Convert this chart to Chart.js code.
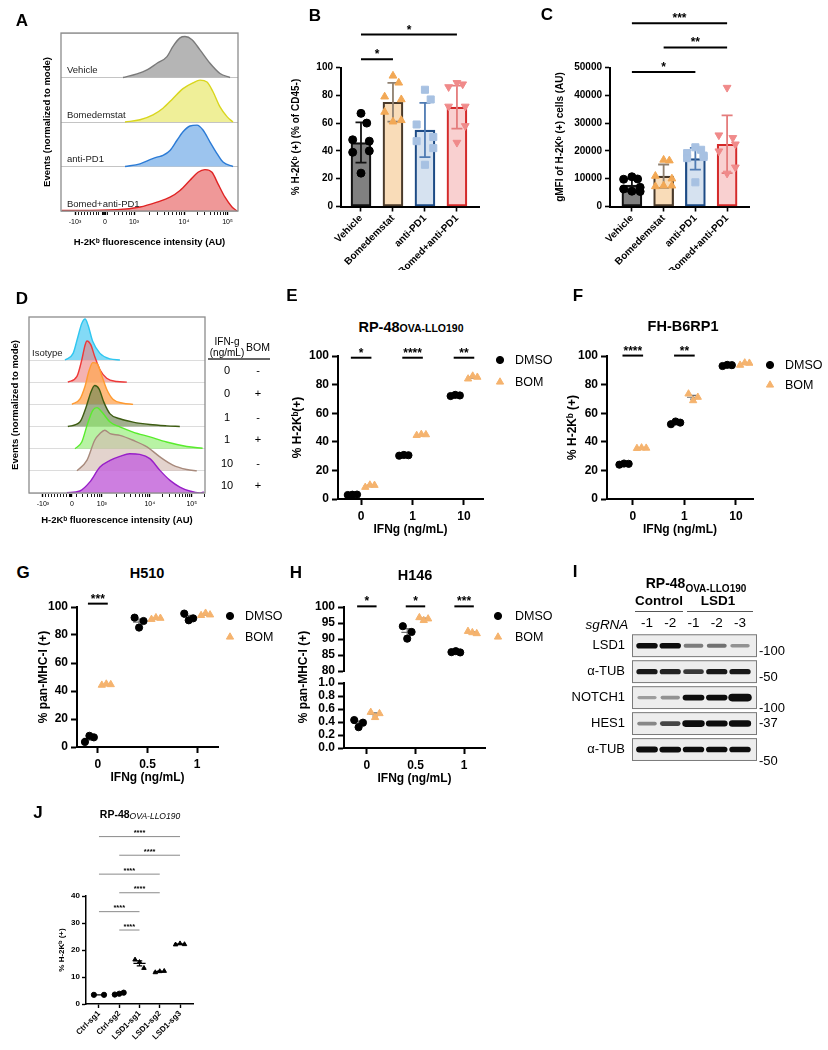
<!DOCTYPE html>
<html><head><meta charset="utf-8">
<script src="https://cdn.jsdelivr.net/npm/chart.js@4.4.1/dist/chart.umd.min.js"></script>
<style>
html,body{margin:0;padding:0;background:#fff;}
body{width:828px;height:1050px;position:relative;overflow:hidden;font-family:"Liberation Sans",Arial,Helvetica,sans-serif;color:#000;}
canvas{position:absolute;}
.t{position:absolute;white-space:nowrap;line-height:1;z-index:5;}
.hr{position:absolute;z-index:5;}
</style></head><body>
<script>
// ================= DATA =================
// Panel A: flow histograms (x in display decades, h = fraction of row height)
const A_ROWS = ['Vehicle','Bomedemstat','anti-PD1','Bomed+anti-PD1'];
const A_TICK_LABELS = ['-10³','0','10³','10⁴','10⁵'];
const A_VEH_X = [2.78,3.06,3.26,3.46,3.66,3.78,3.92,4.02,4.16,4.32,4.52,4.72,4.92];
const A_VEH_H = [0,0.08,0.17,0.32,0.47,0.70,0.89,0.92,0.85,0.62,0.32,0.09,0];
const A_BOM_X = [2.82,3.12,3.38,3.58,3.78,3.98,4.18,4.32,4.46,4.58,4.72,4.86,4.98];
const A_BOM_H = [0,0.05,0.16,0.31,0.53,0.75,0.88,0.94,0.90,0.68,0.34,0.12,0];
const A_PD1_X = [2.82,3.12,3.36,3.46,3.58,3.72,3.86,3.98,4.12,4.26,4.38,4.52,4.66,4.78,4.98];
const A_PD1_H = [0,0.06,0.17,0.21,0.25,0.36,0.59,0.78,0.91,0.93,0.82,0.55,0.29,0.10,0];
const A_CMB_X = [1.56,2.66,3.12,3.46,3.72,3.92,4.12,4.28,4.42,4.56,4.68,4.82,4.96,5.06];
const A_CMB_H = [0.01,0.03,0.09,0.20,0.31,0.46,0.69,0.87,0.93,0.87,0.61,0.31,0.09,0];

// Panel B
const B_CATS = ['Vehicle','Bomedemstat','anti-PD1','Bomed+anti-PD1'];
const B_MEAN = [46, 75, 55, 71.5];
const B_SD = [14.5, 14, 19.5, 15.5];
const B_VEH = [67,60,48,47,39,40,24];
const B_BOM = [94,89,79,77,68,62,61];
const B_PD1 = [84,77,59,50,47,42,30];
const B_CMB = [89,88,86,72,72,58,46];
const B_SIG = [[0,1,106,'*'],[0,3,123.7,'*']];

// Panel C
const C_CATS = ['Vehicle','Bomedemstat','anti-PD1','Bomed+anti-PD1'];
const C_MEAN = [7700, 10900, 17200, 22400];
const C_SD = [2300, 4200, 3900, 10400];
const C_VEH = [10700,9900,9800,6900,6300,5400,5500];
const C_BOM = [16750,16500,10960,10000,7230,7470,7470];
const C_PD1 = [21300,20400,19200,18300,17400,17800,8700];
const C_CMB = [42770,24700,25660,22400,19900,14100,11900];
const C_SIG = [[0,2,48400,'*'],[1,3,57200,'**'],[0,3,65900,'***']];

// Panel D: histograms (rows offset by 1, heights in row units)
const D_ISO_X = [2.23,2.40,2.50,2.58,2.65,2.71,2.81,2.96,3.17,3.375];
const D_ISO_H = [0,0.3,1.05,1.65,1.85,1.58,0.83,0.3,0.05,0];
const D_0N_X = [2.29,2.48,2.58,2.65,2.69,2.77,2.85,2.96,3.10,3.31,3.52];
const D_0N_H = [0,0.26,1.0,1.68,1.86,1.68,1.16,0.56,0.18,0.03,0];
const D_0P_X = [2.375,2.54,2.65,2.73,2.81,2.90,3.0,3.10,3.23,3.44,3.65];
const D_0P_H = [0,0.23,0.83,1.5,1.88,1.83,1.28,0.68,0.23,0.05,0];
const D_1N_X = [2.29,2.54,2.67,2.77,2.85,2.94,3.04,3.17,3.375,3.65,4.0,4.35,4.625];
const D_1N_H = [0,0.2,0.87,1.55,1.85,1.7,1.1,0.57,0.35,0.2,0.09,0.03,0];
const D_1P_X = [2.44,2.58,2.69,2.81,2.90,3.0,3.17,3.375,3.65,4.0,4.35,4.77,5.10];
const D_1P_H = [0,0.3,1.05,1.73,1.85,1.65,1.2,0.98,0.75,0.53,0.3,0.1,0.02];
const D_10N_X = [2.48,2.69,2.85,2.96,3.06,3.17,3.375,3.65,3.94,4.21,4.48,4.77,4.98];
const D_10N_H = [0,0.48,1.38,1.68,1.83,1.68,1.6,1.38,1.08,0.63,0.26,0.06,0];
const D_10P_X = [2.27,2.54,2.75,2.96,3.17,3.375,3.58,3.79,4.0,4.21,4.42,4.625,4.83,5.04,5.125];
const D_10P_H = [0.01,0.09,0.5,1.17,1.47,1.65,1.77,1.74,1.55,1.02,0.57,0.27,0.09,0,0.05];
const D_IFN = ['0','0','1','1','10','10'];
const D_BOMS = ['-','+','-','+','-','+'];

// Panels E-H (replicates per IFNg group)
const E_CATS = ['0','1','10'];
const E_DMSO = [[2.8,3.0,3.1],[30.3,30.8,30.6],[72.0,72.8,72.4]];
const E_BOM = [[8.2,9.8,9.6],[44.5,45.2,45.0],[84.0,86.0,85.2]];
const E_SIG = ['*','****','**'];
const F_CATS = ['0','1','10'];
const F_DMSO = [[24.0,24.8,24.6],[52.3,54.2,53.4],[93.0,93.8,93.6]];
const F_BOM = [[35.4,35.8,35.6],[73.5,68.8,71.2],[93.6,95.2,95.0]];
const F_SIG = ['****','**',null];
const G_CATS = ['0','0.5','1'];
const G_DMSO = [[3.6,8.0,6.9],[92.4,85.3,90.0],[95.3,90.5,91.9]];
const G_BOM = [[44.2,45.0,44.6],[91.2,92.4,92.0],[94.0,95.6,94.4]];
const G_SIG = ['***',null,null];
const H_CATS = ['0','0.5','1'];
const H_DMSO = [[0.43,0.32,0.39],[94.0,90.1,92.2],[85.9,86.2,85.8]];
const H_BOM = [[0.55,0.47,0.53],[96.7,95.8,96.3],[92.4,92.0,91.7]];
const H_SIG = ['*','*','***'];

// Panel I: western blot band signal (rows x lanes)
const I_PROTEINS = ['LSD1','α-TUB','NOTCH1','HES1','α-TUB'];
const I_LANES = ['-1','-2','-1','-2','-3'];
const I_MW = ['-100','-50','-100','-37','-50'];
const I_SIGNAL = [
  [1.0,1.0,0.5,0.55,0.4],
  [0.95,0.9,0.8,0.95,0.95],
  [0.35,0.4,1.1,1.0,1.6],
  [0.45,0.75,1.3,1.1,1.25],
  [1.1,1.05,1.0,1.0,1.0]
];

// Panel J
const J_CATS = ['Ctrl-sg1','Ctrl-sg2','LSD1-sg1','LSD1-sg2','LSD1-sg3'];
const J_VALS = [[3.4,3.4],[3.5,3.8,4.2],[16.4,15.5,13.3],[11.7,12.1,12.2],[22.0,22.4,22.1]];
const J_SIG = [[1,2,27.4],[0,2,34.2],[1,3,41.2],[0,3,48.1],[1,4,55.1],[0,4,62.0]];

// ================= HELPERS =================
const FF='"Liberation Sans", Arial, Helvetica, sans-serif';
const fb=s=>({family:FF,size:s,weight:'bold'});
const fr=s=>({family:FF,size:s,weight:'normal'});
Chart.defaults.font.family=FF;
Chart.defaults.color='#000';
Chart.defaults.animation=false;
Chart.defaults.responsive=false;
Chart.defaults.maintainAspectRatio=false;
Chart.defaults.plugins.legend.display=false;
Chart.defaults.plugins.tooltip.enabled=false;
Chart.defaults.devicePixelRatio=1;

function canvasAt(L,T,W,H){
  const c=document.createElement('canvas');
  c.width=W;c.height=H;
  c.style.left=L+'px';c.style.top=T+'px';c.style.width=W+'px';c.style.height=H+'px';
  document.body.appendChild(c);return c;
}
function txt(html,x,y,css,anchor){
  const d=document.createElement('div');d.className='t';d.innerHTML=html;
  d.style.cssText+=css||'';d.style.left=x+'px';d.style.top=y+'px';
  d.style.transform=anchor==='left'?'translate(0,-50%)':anchor==='right'?'translate(-100%,-50%)':'translate(-50%,-50%)';
  document.body.appendChild(d);
}
function hline(x1,x2,y,w,col){
  const d=document.createElement('div');d.className='hr';
  d.style.left=x1+'px';d.style.top=(y-w/2)+'px';d.style.width=(x2-x1)+'px';d.style.height=w+'px';d.style.background=col;
  document.body.appendChild(d);
}
function marker(ctx,style,r,x,y,color,rot){
  ctx.save();ctx.fillStyle=color;ctx.strokeStyle=color;ctx.lineWidth=1;
  Chart.helpers.drawPoint(ctx,{pointStyle:style,radius:r,borderWidth:1,rotation:rot||0},x,y);
  ctx.restore();
}
function sigLine(ctx,xs,ys,a,b,yv,text,opt){
  const p1=xs.getPixelForValue(a),p2=xs.getPixelForValue(b),py=ys.getPixelForValue(yv);
  ctx.save();ctx.strokeStyle=opt.color||'#000';ctx.lineWidth=opt.lw||1.5;
  ctx.beginPath();ctx.moveTo(p1,py);ctx.lineTo(p2,py);ctx.stroke();
  ctx.fillStyle='#000';ctx.font=opt.font;ctx.textAlign='center';ctx.textBaseline='alphabetic';
  ctx.fillText(text,(p1+p2)/2,py+(opt.dy||0));ctx.restore();
}
const JIT3=[-0.09,0,0.09];
const J7=[0,0.18,-0.26,0.26,-0.26,0.26,0];

// ================= HISTOGRAM PANELS (A, D) =================
function minorTicks(tp,xmin,xmax){
  const [n,z,d3,d4,d5]=tp;const out=[];
  for(let k=1;k<10;k++) out.push(n+(z-n)*k/10);
  for(let k=1;k<=3;k++) out.push(z-0.02*k);
  for(let k=3;k<10;k++) out.push(d3+(d4-d3)*Math.log10(k/10));
  for(let k=2;k<10;k++){out.push(d3+(d4-d3)*Math.log10(k));out.push(d4+(d5-d4)*Math.log10(k));out.push(d5+(d5-d4)*Math.log10(k));}
  return out.filter(v=>v>xmin&&v<xmax);
}
function histPanel(o){
  const c=canvasAt(o.L,o.T,o.W,o.H);
  const [x0,y0,x1,y1]=o.area;const yw=x0-o.L-o.pl, xh=o.T+o.H-y1;
  const ticks=o.ticks.map((v,i)=>({value:v,label:o.tickLabels[i]}))
    .concat(minorTicks(o.ticks,o.xmin,o.xmax).map(v=>({value:v,label:''})))
    .sort((a,b)=>a.value-b.value);
  const datasets=o.series.map((s,i)=>({type:'line',data:s.x.map((x,j)=>({x,y:s.base+s.h[j]})),
    borderColor:s.line,backgroundColor:s.fill,borderWidth:1.4,fill:{value:s.base},pointRadius:0,
    cubicInterpolationMode:'monotone',order:o.series.length-i}));
  const plug={id:'hist',
    afterDraw(chart){
      const {ctx,chartArea:a}=chart;const ys=chart.scales.y;
      ctx.save();ctx.strokeStyle='#8c8c8c';ctx.lineWidth=1.3;ctx.strokeRect(a.left,a.top,a.right-a.left,a.bottom-a.top);
      ctx.fillStyle='#222';ctx.font=o.labelFont+' '+FF;ctx.textAlign='left';ctx.textBaseline='middle';
      o.labels.forEach(l=>ctx.fillText(l.t,a.left+l.dx,ys.getPixelForValue(l.base+l.dy)));
      ctx.restore();
    }};
  new Chart(c,{type:'scatter',data:{datasets},options:{
    layout:{padding:{left:o.pl,top:y0-o.T,right:o.L+o.W-x1,bottom:0}},
    scales:{
      x:{type:'linear',min:o.xmin,max:o.xmax,
        afterBuildTicks:s=>{s.ticks=ticks.map(t=>({value:t.value}));},
        ticks:{callback:(v,i)=>ticks[i]?ticks[i].label:'',font:fr(7),padding:3,autoSkip:false,maxRotation:0,minRotation:0},
        grid:{drawOnChartArea:false,tickLength:4,tickColor:'#000',tickWidth:ctx=>(ticks[ctx.index]&&ticks[ctx.index].label)?1.4:0.9},
        border:{display:false},
        title:{display:true,text:'H-2Kᵇ fluorescence intensity (AU)',font:fb(9.5),padding:0},
        afterFit:s=>{s.height=xh;}},
      y:{type:'linear',min:0,max:o.ymax,
        afterBuildTicks:s=>{s.ticks=o.rowsY.map(v=>({value:v}));},
        ticks:{display:false},grid:{color:o.gridColor,drawTicks:false,lineWidth:1},border:{display:false},
        title:{display:true,text:'Events (normalized to mode)',font:fb(9.5),padding:0},
        afterFit:s=>{s.width=yw;}}
    }},plugins:[plug]});
}

histPanel({L:0,T:25,W:250,H:223,area:[61,33,238,211],pl:42,xmin:1.54,xmax:5.08,
  ticks:[1.82,2.42,3,4,4.87],tickLabels:A_TICK_LABELS,ymax:4,rowsY:[0,1,2,3,4],gridColor:'#c4c4c4',
  series:[
    {x:A_VEH_X,h:A_VEH_H,base:3,line:'#7a7a7a',fill:'#b5b5b5'},
    {x:A_BOM_X,h:A_BOM_H,base:2,line:'#d9d61e',fill:'#efef98'},
    {x:A_PD1_X,h:A_PD1_H,base:1,line:'#2b7bd6',fill:'#9cc4ee'},
    {x:A_CMB_X,h:A_CMB_H,base:0,line:'#e02424',fill:'#ef9898'}],
  labels:A_ROWS.map((t,i)=>({t,base:3-i,dy:0.16,dx:6})),labelFont:'9.5px'});

histPanel({L:0,T:305,W:215,H:221,area:[29,317,205,493],pl:10,xmin:1.48,xmax:5.15,
  ticks:[1.77,2.375,3,4,4.875],tickLabels:A_TICK_LABELS,ymax:7.94,rowsY:[0,1,2,3,4,5,6],gridColor:'#dcdcdc',
  series:[
    {x:D_ISO_X,h:D_ISO_H,base:6,line:'#2ec6f0',fill:'rgba(118,214,245,0.9)'},
    {x:D_0N_X,h:D_0N_H,base:5,line:'#ee3838',fill:'rgba(238,130,130,0.62)'},
    {x:D_0P_X,h:D_0P_H,base:4,line:'#ff9a30',fill:'rgba(255,168,88,0.78)'},
    {x:D_1N_X,h:D_1N_H,base:3,line:'#3d5c12',fill:'rgba(110,132,82,0.65)'},
    {x:D_1P_X,h:D_1P_H,base:2,line:'#58ec2c',fill:'rgba(140,236,108,0.62)'},
    {x:D_10N_X,h:D_10N_H,base:1,line:'#a88a7c',fill:'rgba(212,188,178,0.65)'},
    {x:D_10P_X,h:D_10P_H,base:0,line:'#9820c8',fill:'rgba(198,108,220,0.88)'}],
  labels:[{t:'Isotype',base:6,dy:0.32,dx:3}],labelFont:'9.5px'});

// ================= BAR PANELS (B, C) =================
function barPanel(o){
  const c=canvasAt(o.L,o.T,o.W,o.H);
  const [x0,y0,x1,y1]=o.area;const yw=x0-o.L-o.pl, xh=o.T+o.H-y1;
  const datasets=[{type:'bar',data:o.mean.map((m,i)=>({x:i,y:m})),backgroundColor:o.fill,borderColor:o.edge,
    borderWidth:2.2,borderSkipped:false,barThickness:20,order:3}];
  o.pts.forEach((arr,i)=>datasets.push({type:'scatter',data:arr.map((v,r)=>({x:i+J7[r],y:v})),
    pointStyle:o.style[i],pointRotation:o.rot[i],pointRadius:o.r[i],backgroundColor:o.pcol[i],borderColor:o.pcol[i],order:1}));
  const plug={id:'bars',
    afterDatasetDraw(chart,args){
      if(args.index!==0) return;
      const ctx=chart.ctx,xs=chart.scales.x,ys=chart.scales.y;
      o.mean.forEach((m,i)=>{
        const px=xs.getPixelForValue(i),pt=ys.getPixelForValue(m+o.sd[i]),pb=ys.getPixelForValue(m-o.sd[i]),cw=5.5;
        ctx.save();ctx.strokeStyle=o.ecol[i];ctx.lineWidth=1.8;ctx.beginPath();
        ctx.moveTo(px,pt);ctx.lineTo(px,pb);ctx.moveTo(px-cw,pt);ctx.lineTo(px+cw,pt);ctx.moveTo(px-cw,pb);ctx.lineTo(px+cw,pb);
        ctx.stroke();ctx.restore();
      });
    },
    afterDraw(chart){
      o.sig.forEach(s=>sigLine(chart.ctx,chart.scales.x,chart.scales.y,s[0],s[1],s[2],s[3],{font:'bold 12px '+FF,lw:2,dy:-1}));
    }};
  new Chart(c,{type:'bar',data:{datasets},options:{
    layout:{padding:{left:o.pl,top:y0-o.T,right:o.L+o.W-x1,bottom:0}},
    scales:{
      x:{type:'linear',offset:false,min:o.xmin,max:o.xmax,
        afterBuildTicks:s=>{s.ticks=o.cats.map((_,i)=>({value:i}));},
        ticks:{callback:(v,i)=>o.cats[i],font:fb(10),padding:1,autoSkip:false,minRotation:45,maxRotation:45},
        grid:{drawOnChartArea:false,tickLength:5,tickWidth:1.6,tickColor:'#000',offset:false},
        border:{color:'#000',width:2},afterFit:s=>{s.height=xh;}},
      y:{type:'linear',min:0,max:o.ymax,ticks:{stepSize:o.ystep,font:fb(10),padding:3,autoSkip:false,callback:v=>String(v)},
        grid:{drawOnChartArea:false,tickLength:5,tickWidth:1.6,tickColor:'#000'},border:{color:'#000',width:2},
        title:{display:true,text:o.ytitle,font:fb(10),padding:0},afterFit:s=>{s.width=yw;}}
    }},plugins:[plug]});
}
const BC_FILL=['#808080','#f9dcb8','#d6e2f0','#f9d0d0'];
const BC_EDGE=['#111111','#4a3a2a','#1d4b85','#d42a2a'];
const BC_ECOL=['#111111','#8f8070','#4f7bb3','#e47c7c'];
const BC_PCOL=['#000000','#f2a855','#a7c1e2','#f08a8a'];
barPanel({L:272,T:0,W:218,H:270,area:[341,67.5,479,206.5],pl:18,xmin:-0.625,xmax:3.69,
  cats:B_CATS,mean:B_MEAN,sd:B_SD,pts:[B_VEH,B_BOM,B_PD1,B_CMB],ymax:100,ystep:20,
  ytitle:'% H-2Kᵇ (+) (% of CD45-)',sig:B_SIG,fill:BC_FILL,edge:BC_EDGE,ecol:BC_ECOL,pcol:BC_PCOL,
  style:['circle','triangle','rect','triangle'],rot:[0,0,0,180],r:[4,4.5,5,4.5]});
barPanel({L:542,T:0,W:220,H:270,area:[610,67.5,749,206.5],pl:12,xmin:-0.69,xmax:3.69,
  cats:C_CATS,mean:C_MEAN,sd:C_SD,pts:[C_VEH,C_BOM,C_PD1,C_CMB],ymax:50000,ystep:10000,
  ytitle:'gMFI of H-2Kᵇ (+) cells (AU)',sig:C_SIG,fill:BC_FILL,edge:BC_EDGE,ecol:BC_ECOL,pcol:BC_PCOL,
  style:['circle','triangle','rect','triangle'],rot:[0,0,0,180],r:[4,4.5,5,4.5]});

// ================= DOT PANELS (E, F, G, H) =================
function dotPanel(o){
  const c=canvasAt(o.L,o.T,o.W,o.H);
  const [x0,y0,x1,y1]=o.area;const yw=x0-o.L-o.pl, xh=o.T+o.H-y1;
  const axisFor=o.axisFor||(()=> 'y');
  const datasets=[];
  o.series.forEach(s=>{
    const groups={};
    s.vals.forEach((reps,g)=>{const ax=axisFor(g);(groups[ax]=groups[ax]||[]).push(...reps.map((v,r)=>({x:g+s.off+JIT3[r],y:v})));});
    Object.keys(groups).forEach(ax=>datasets.push({type:'scatter',label:s.name,data:groups[ax],yAxisID:ax,
      pointStyle:s.style,pointRadius:s.r,backgroundColor:s.color,borderColor:s.color,pointBorderWidth:1}));
  });
  const yTick={drawOnChartArea:false,tickLength:6,tickWidth:2,tickColor:'#000'};
  const scales={x:{type:'linear',min:o.xmin,max:o.xmax,
    afterBuildTicks:s=>{s.ticks=o.cats.map((_,i)=>({value:i}));},
    ticks:{callback:(v,i)=>o.cats[i],font:fb(12),padding:4,autoSkip:false,maxRotation:0},
    grid:yTick,border:{color:'#000',width:2},
    title:{display:true,text:'IFNg (ng/mL)',font:fb(12),padding:0},afterFit:s=>{s.height=xh;}}};
  if(o.yscales) Object.assign(scales,o.yscales(yw,yTick));
  else scales.y={type:'linear',min:0,max:100,ticks:{stepSize:20,font:fb(12),padding:3,autoSkip:false},grid:yTick,
    border:{color:'#000',width:2},title:{display:true,text:o.ytitle,font:fb(12),padding:0},afterFit:s=>{s.width=yw;}};
  const plug={id:'dots',
    beforeDatasetsDraw(chart){
      const ctx=chart.ctx,xs=chart.scales.x;
      ctx.save();ctx.strokeStyle='#707070';ctx.lineWidth=1.2;
      o.series.forEach(s=>s.vals.forEach((reps,g)=>{
        const ys=chart.scales[axisFor(g)];const n=reps.length;const m=reps.reduce((a,b)=>a+b,0)/n;
        const se=Math.sqrt(reps.reduce((a,b)=>a+(b-m)*(b-m),0)/(n-1))/Math.sqrt(n);
        const cx=g+s.off,px=xs.getPixelForValue(cx),hw=xs.getPixelForValue(cx+0.12)-px,cw=hw*0.5;
        const pm=ys.getPixelForValue(m),pt=ys.getPixelForValue(m+se),pb=ys.getPixelForValue(m-se);
        ctx.beginPath();ctx.moveTo(px-hw,pm);ctx.lineTo(px+hw,pm);ctx.moveTo(px,pt);ctx.lineTo(px,pb);
        ctx.moveTo(px-cw,pt);ctx.lineTo(px+cw,pt);ctx.moveTo(px-cw,pb);ctx.lineTo(px+cw,pb);ctx.stroke();
      }));
      ctx.restore();
    },
    afterDraw(chart){
      const ctx=chart.ctx,a=chart.chartArea;
      o.sig.forEach((t,g)=>{if(t) sigLine(ctx,chart.scales.x,chart.scales[o.sigAxis||'y'],g-0.2,g+0.2,o.sigY,t,{font:'bold 12px '+FF,lw:2,dy:-1});});
      o.series.forEach((s,si)=>{
        const mx=a.right+o.leg.dx,my=a.top+o.leg.dy+si*o.leg.gap;
        marker(ctx,s.style,s.r,mx,my,s.color);
        ctx.save();ctx.fillStyle='#000';ctx.font='12.5px '+FF;ctx.textAlign='left';ctx.textBaseline='middle';
        ctx.fillText(s.name,mx+o.leg.tx,my+0.5);ctx.restore();
      });
    }};
  new Chart(c,{type:'scatter',data:{datasets},options:{
    layout:{padding:{left:o.pl,top:y0-o.T,right:o.L+o.W-x1,bottom:0}},scales},plugins:[plug]});
}
const DMSO_S={name:'DMSO',off:-0.17,style:'circle',r:3.6,color:'#000000'};
const BOM_S={name:'BOM',off:0.17,style:'triangle',r:4.2,color:'#f5b36e'};
dotPanel({L:272,T:335,W:295,H:202,area:[338,356,483,499],pl:18,xmin:-0.45,xmax:2.37,cats:E_CATS,
  series:[{...DMSO_S,vals:E_DMSO},{...BOM_S,vals:E_BOM}],ytitle:'% H-2Kᵇ(+)',sig:E_SIG,sigY:98.8,
  leg:{dx:17,dy:4,gap:22,tx:15}});
dotPanel({L:545,T:335,W:283,H:202,area:[607,356,753,499],pl:20,xmin:-0.5,xmax:2.33,cats:F_CATS,
  series:[{...DMSO_S,vals:F_DMSO},{...BOM_S,vals:F_BOM}],ytitle:'% H-2Kᵇ (+)',sig:F_SIG,sigY:100.3,
  leg:{dx:17,dy:9,gap:20,tx:15}});
dotPanel({L:0,T:585,W:295,H:200,area:[77,607,218,747],pl:36,xmin:-0.42,xmax:2.42,cats:G_CATS,
  series:[{...DMSO_S,vals:G_DMSO},{...BOM_S,vals:G_BOM}],ytitle:'% pan-MHC-I (+)',sig:G_SIG,sigY:102.4,
  leg:{dx:12,dy:9,gap:21,tx:15}});
dotPanel({L:272,T:585,W:295,H:201,area:[344,607,485,748],pl:24,xmin:-0.47,xmax:2.43,cats:H_CATS,
  series:[{...DMSO_S,vals:H_DMSO},{...BOM_S,vals:H_BOM}],sig:H_SIG,sigY:100.2,sigAxis:'yTop',
  axisFor:g=>g===0?'yBot':'yTop',leg:{dx:13,dy:9,gap:21,tx:17},
  yscales:(yw,gt)=>({
    yTop:{type:'linear',position:'left',stack:'h',stackWeight:64,weight:3,min:80,max:100,
      ticks:{stepSize:5,font:fb(12),padding:3,autoSkip:false},grid:gt,border:{color:'#000',width:2},afterFit:s=>{s.width=yw;}},
    gap:{type:'linear',position:'left',stack:'h',stackWeight:12,weight:2,min:0,max:1,
      ticks:{display:false},grid:{display:false,drawTicks:false},border:{display:false},
      title:{display:true,text:'% pan-MHC-I (+)',font:fb(12),padding:0},afterFit:s=>{s.width=yw;}},
    yBot:{type:'linear',position:'left',stack:'h',stackWeight:65,weight:1,min:0,max:1,
      ticks:{stepSize:0.2,font:fb(12),padding:3,autoSkip:false,callback:v=>Number(v).toFixed(1)},grid:gt,border:{color:'#000',width:2},afterFit:s=>{s.width=yw;}}
  })});

// ================= PANEL I (blot) =================
(function(){
  const L=545,T=590,W=283,H=185;
  const c=canvasAt(L,T,W,H);
  const ds=[];
  I_SIGNAL.forEach((row,r)=>row.forEach((v,l)=>{
    const k=Math.round(235-222*Math.min(v,1));
    ds.push({type:'line',data:[{x:l-0.34,y:r},{x:l+0.34,y:r}],borderColor:`rgb(${k},${k},${k})`,
      borderWidth:Math.min(2.2+3.4*v,8.5),borderCapStyle:'round',pointRadius:0});
  }));
  const plug={id:'blot',
    beforeDatasetsDraw(chart){
      const {ctx,chartArea:a}=chart;const y=chart.scales.y;
      ctx.save();
      I_PROTEINS.forEach((_,r)=>{
        const t=y.getPixelForValue(r-0.44),b=y.getPixelForValue(r+0.44);
        ctx.fillStyle='#ededed';ctx.fillRect(a.left,t,a.right-a.left,b-t);
        ctx.strokeStyle='#7a7a7a';ctx.lineWidth=1;ctx.strokeRect(a.left+0.5,t+0.5,a.right-a.left-1,b-t-1);
      });
      ctx.restore();
    }};
  new Chart(c,{type:'scatter',data:{datasets:ds},options:{
    layout:{padding:{left:0,top:0,right:71,bottom:5}},
    scales:{
      x:{type:'linear',position:'top',min:-0.645,max:4.73,
        afterBuildTicks:s=>{s.ticks=I_LANES.map((_,i)=>({value:i}));},
        ticks:{callback:(v,i)=>I_LANES[i],font:fr(13.5),padding:3,autoSkip:false,maxRotation:0},
        grid:{display:false,drawTicks:false},border:{display:false},afterFit:s=>{s.height=44;}},
      y:{type:'linear',reverse:true,min:-0.45,max:4.41,
        afterBuildTicks:s=>{s.ticks=I_PROTEINS.map((_,i)=>({value:i}));},
        ticks:{callback:(v,i)=>I_PROTEINS[i],font:fr(13),padding:7,autoSkip:false},
        grid:{display:false,drawTicks:false},border:{display:false},afterFit:s=>{s.width=87;}}
    }},plugins:[plug]});
})();

// ================= PANEL J =================
(function(){
  const L=30,T=820,W=180,H=230,area=[86,896,193,1004],pl=27;
  const yw=area[0]-L-pl,xh=T+H-area[3];
  const J_STYLE=['circle','circle','triangle','triangle','triangle'];
  const jit=n=>n===2?[-0.25,0.25]:[-0.22,0,0.22];
  const datasets=J_VALS.map((reps,g)=>{const jj=jit(reps.length);return {type:'scatter',
    data:reps.map((v,r)=>({x:g+jj[r],y:v})),pointStyle:J_STYLE[g],pointRadius:2.6,backgroundColor:'#000',borderColor:'#000'};});
  const plug={id:'jp',
    beforeDatasetsDraw(chart){
      const ctx=chart.ctx,xs=chart.scales.x,ys=chart.scales.y;
      ctx.save();ctx.strokeStyle='#000';ctx.lineWidth=1.2;
      J_VALS.forEach((reps,g)=>{
        const n=reps.length,m=reps.reduce((a,b)=>a+b,0)/n;
        const se=Math.sqrt(reps.reduce((a,b)=>a+(b-m)*(b-m),0)/(n-1))/Math.sqrt(n);
        const px=xs.getPixelForValue(g),hw=xs.getPixelForValue(g+0.3)-px,cw=hw*0.45;
        const pm=ys.getPixelForValue(m),pt=ys.getPixelForValue(m+se),pb=ys.getPixelForValue(m-se);
        ctx.beginPath();ctx.moveTo(px-hw,pm);ctx.lineTo(px+hw,pm);ctx.moveTo(px,pt);ctx.lineTo(px,pb);
        ctx.moveTo(px-cw,pt);ctx.lineTo(px+cw,pt);ctx.moveTo(px-cw,pb);ctx.lineTo(px+cw,pb);ctx.stroke();
      });
      ctx.restore();
    },
    afterDraw(chart){
      J_SIG.forEach(s=>sigLine(chart.ctx,chart.scales.x,chart.scales.y,s[0],s[1],s[2],'****',{font:'bold 7.5px '+FF,lw:1,color:'#8a8a8a',dy:-1.5}));
    }};
  new Chart(canvasAt(L,T,W,H),{type:'scatter',data:{datasets},options:{
    layout:{padding:{left:pl,top:area[1]-T,right:L+W-area[2],bottom:0}},
    scales:{
      x:{type:'linear',min:-0.64,max:4.64,
        afterBuildTicks:s=>{s.ticks=J_CATS.map((_,i)=>({value:i}));},
        ticks:{callback:(v,i)=>J_CATS[i],font:fb(8),padding:1,autoSkip:false,minRotation:45,maxRotation:45},
        grid:{drawOnChartArea:false,tickLength:4,tickWidth:1.4,tickColor:'#000'},border:{color:'#000',width:1.5},
        afterFit:s=>{s.height=xh;}},
      y:{type:'linear',min:0,max:40,ticks:{stepSize:10,font:fb(8),padding:2,autoSkip:false},
        grid:{drawOnChartArea:false,tickLength:4,tickWidth:1.4,tickColor:'#000'},border:{color:'#000',width:1.5},
        title:{display:true,text:'% H-2Kᵇ (+)',font:fb(8),padding:0},afterFit:s=>{s.width=yw;}}
    }},plugins:[plug]});
})();

// ================= TEXT =================
const LET='font-weight:bold;font-size:17px;';
[['A',22,20],['B',315,15],['C',547,14],['D',22,298],['E',292,295],['F',578,295],['G',23,572],['H',296,572],['I',575,571],['J',38,812]]
  .forEach(p=>txt(p[0],p[1],p[2],LET));
// D table
txt('IFN-g',227,342,'font-size:10px;');
txt('(ng/mL)',227,353,'font-size:10px;');
txt('BOM',258,347,'font-size:10.5px;');
hline(208,270,359,2,'#666');
[370,393,417,439,463,485].forEach((y,i)=>{txt(D_IFN[i],227,y,'font-size:11px;');txt(D_BOMS[i],258,y,'font-size:11px;');});
// titles
txt('RP-48<span style="font-size:10.5px">OVA-LLO190</span>',411,327,'font-weight:bold;font-size:14.5px;');
txt('FH-B6RP1',683,326,'font-weight:bold;font-size:14.5px;');
txt('H510',147,573,'font-weight:bold;font-size:14.5px;');
txt('H146',415,575,'font-weight:bold;font-size:14.5px;');
// I header
txt('RP-48<span style="font-size:10px;position:relative;top:4px">OVA-LLO190</span>',696,583,'font-weight:bold;font-size:14px;');
txt('Control',659,601,'font-weight:bold;font-size:13.5px;');
txt('LSD1',718,601,'font-weight:bold;font-size:13.5px;');
hline(635,683,611,1,'#555');
hline(687,753,611,1,'#555');
txt('sgRNA',607,625,'font-style:italic;font-size:13.5px;');
[[650],[676],[707],[722],[760]].forEach((p,i)=>txt(I_MW[i],759,p[0],'font-size:13px;','left'));
// J title
txt('<b>RP-48</b><i style="font-size:8.5px;position:relative;top:1px">OVA-LLO190</i>',140,814,'font-size:10.5px;');
</script>
</body></html>
